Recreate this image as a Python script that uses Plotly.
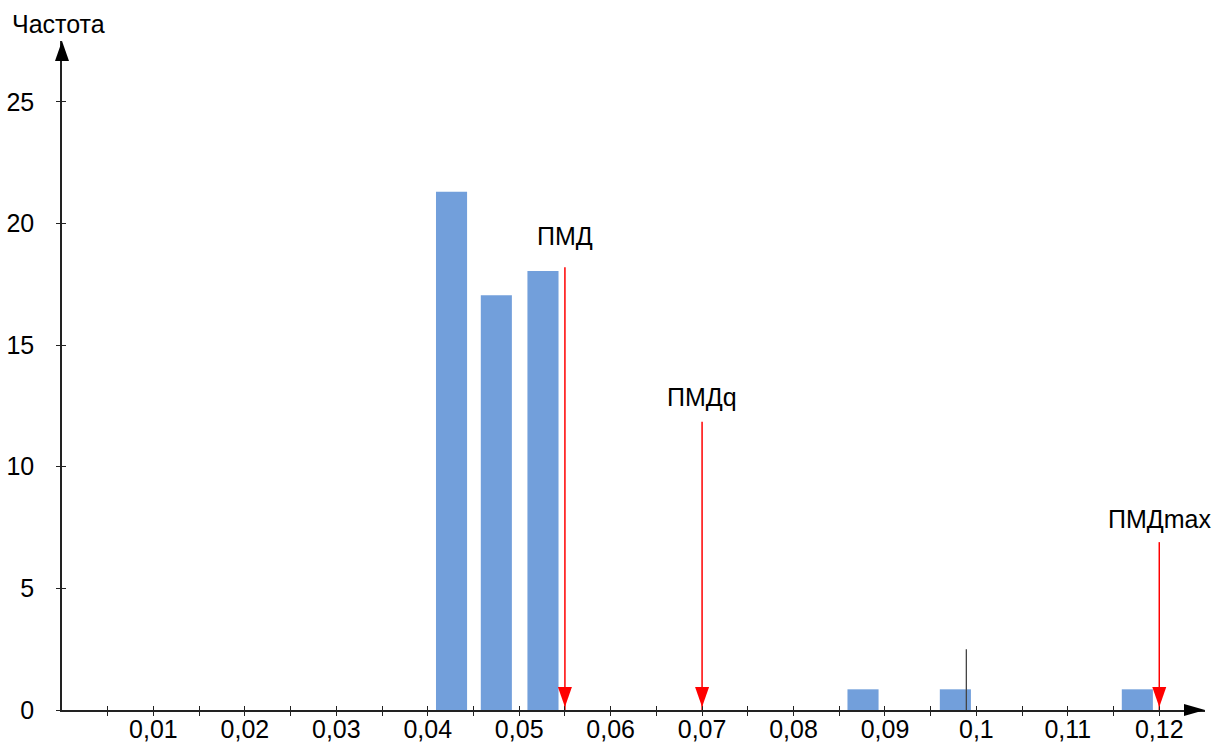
import plotly.graph_objects as go

# ---- data ----
bin_centers = [0.0426, 0.0475, 0.0526, 0.0876, 0.0977, 0.1176]
frequencies = [21.3, 17.05, 18.05, 0.85, 0.85, 0.85]

marker_names = ["ПМД", "ПМДq", "ПМДmax"]
marker_x = [0.055, 0.07, 0.12]
marker_top = [18.2, 11.85, 6.9]

thin_line_x = [0.0989]
thin_line_top = [2.5]

x_tick_vals = [0.01, 0.02, 0.03, 0.04, 0.05, 0.06, 0.07, 0.08, 0.09, 0.10, 0.11, 0.12]
x_tick_text = ["0,01", "0,02", "0,03", "0,04", "0,05", "0,06", "0,07", "0,08", "0,09", "0,1", "0,11", "0,12"]
y_tick_vals = [0, 5, 10, 15, 20, 25]
y_tick_text = ["0", "5", "10", "15", "20", "25"]
y_title = "Частота"

X_MAX = 0.125
Y_MAX = 27.5
FONT = "Liberation Sans, Arial, sans-serif"
FS = 25
AXIS_COLOR = "#222222"
BAR_COLOR = "#729FDB"
RED = "#FF0000"

minor_vals = [v - 0.005 for v in x_tick_vals]

fig = go.Figure()

fig.add_trace(go.Bar(
    x=bin_centers, y=frequencies, width=0.0034,
    marker=dict(color=BAR_COLOR, line=dict(width=0)),
    showlegend=False, hoverinfo="x+y",
))

# thin dark line
for xv, top in zip(thin_line_x, thin_line_top):
    fig.add_trace(go.Scatter(
        x=[xv, xv], y=[0, top], mode="lines",
        line=dict(color="#444444", width=1.3), showlegend=False, hoverinfo="skip",
    ))

# red marker lines
for xv, top in zip(marker_x, marker_top):
    fig.add_trace(go.Scatter(
        x=[xv, xv], y=[0, top], mode="lines",
        line=dict(color=RED, width=1.5), showlegend=False, hoverinfo="skip",
    ))

# dummy trace for overlay axes (crossing ticks)
fig.add_trace(go.Scatter(x=[], y=[], xaxis="x2", yaxis="y2", showlegend=False))

shapes = []
# red arrow heads
for xv in marker_x:
    shapes.append(dict(
        type="path", xref="x", yref="y", xsizemode="pixel", ysizemode="pixel",
        xanchor=xv, yanchor=0, path="M0,3 L-7,23 L7,23 Z",
        fillcolor=RED, line=dict(width=0), layer="above",
    ))
# axis arrow heads (paper-referenced so they are not clipped)
shapes.append(dict(
    type="path", xref="paper", yref="paper", xsizemode="pixel", ysizemode="pixel",
    xanchor=1, yanchor=0, path="M0,0 L-21,6 L-21,-6 Z",
    fillcolor="black", line=dict(width=0), layer="above",
))
shapes.append(dict(
    type="path", xref="paper", yref="paper", xsizemode="pixel", ysizemode="pixel",
    xanchor=0, yanchor=1, path="M0,0 L-7,-20 L7,-20 Z",
    fillcolor="black", line=dict(width=0), layer="above",
))

annotations = []
label_shift = [31, 25, 23]
for name, xv, top, sh in zip(marker_names, marker_x, marker_top, label_shift):
    annotations.append(dict(
        x=xv, y=top, xref="x", yref="y", text=name, showarrow=False,
        yanchor="middle", xanchor="center", yshift=sh,
        font=dict(family=FONT, size=FS, color="black"),
    ))
annotations.append(dict(
    x=0, y=Y_MAX, xref="x", yref="y", text=y_title, showarrow=False,
    xanchor="center", yanchor="middle", yshift=17, xshift=-4,
    font=dict(family=FONT, size=FS, color="black"),
))

fig.update_layout(
    width=1223, height=742,
    margin=dict(l=62, r=18, t=41, b=32, autoexpand=False),
    plot_bgcolor="white", paper_bgcolor="white",
    font=dict(family=FONT, size=FS, color="black"),
    showlegend=False,
    shapes=shapes, annotations=annotations,
    xaxis=dict(
        range=[0, X_MAX], showgrid=False, zeroline=False,
        showline=True, linecolor=AXIS_COLOR, linewidth=1.5,
        tickvals=x_tick_vals, ticktext=x_tick_text,
        ticks="outside", ticklen=4, tickwidth=1, tickcolor=AXIS_COLOR,
        minor=dict(tickvals=minor_vals, ticks="outside", ticklen=4, tickwidth=1, tickcolor=AXIS_COLOR),
        tickfont=dict(family=FONT, size=FS, color="black"),
        ticklabelstandoff=-8,
    ),
    yaxis=dict(
        range=[0, Y_MAX], showgrid=False, zeroline=False,
        showline=True, linecolor=AXIS_COLOR, linewidth=1.5,
        tickvals=y_tick_vals, ticktext=y_tick_text,
        ticks="outside", ticklen=4, tickwidth=1, tickcolor=AXIS_COLOR,
        tickfont=dict(family=FONT, size=FS, color="black"),
        ticklabelstandoff=17,
    ),
    xaxis2=dict(
        range=[0, X_MAX], overlaying="x", anchor="y2", showgrid=False, zeroline=False,
        showline=False, tickvals=x_tick_vals, showticklabels=False,
        ticks="inside", ticklen=4, tickwidth=1, tickcolor=AXIS_COLOR,
        minor=dict(tickvals=minor_vals, ticks="inside", ticklen=4, tickwidth=1, tickcolor=AXIS_COLOR),
    ),
    yaxis2=dict(
        range=[0, Y_MAX], overlaying="y", anchor="x2", showgrid=False, zeroline=False,
        showline=False, tickvals=y_tick_vals[1:], showticklabels=False,
        ticks="inside", ticklen=4, tickwidth=1, tickcolor=AXIS_COLOR,
    ),
)

fig.write_html(
    "out.html",
    config={"displayModeBar": False},
    post_script="document.body.style.margin='0';document.body.style.overflow='hidden';",
)
